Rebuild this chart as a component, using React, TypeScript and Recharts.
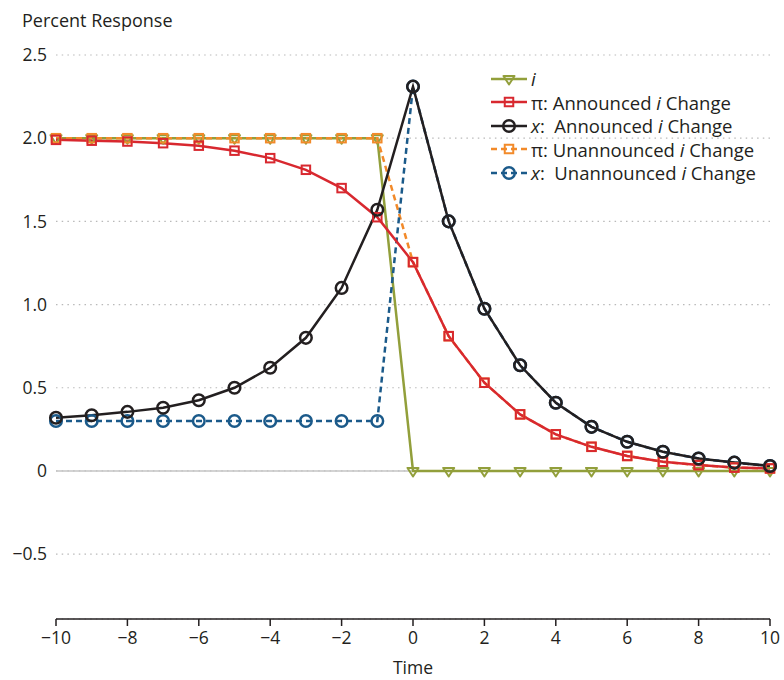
import React from 'react';
import { LineChart, Line, XAxis, YAxis, CartesianGrid, ReferenceLine } from 'recharts';

const FONT = '"Open Sans", "Noto Sans", sans-serif';

const time = [-10, -9, -8, -7, -6, -5, -4, -3, -2, -1, 0, 1, 2, 3, 4, 5, 6, 7, 8, 9, 10];
const iRate = [2, 2, 2, 2, 2, 2, 2, 2, 2, 2, 0, 0, 0, 0, 0, 0, 0, 0, 0, 0, 0];
const piAnnounced = [1.99, 1.985, 1.98, 1.97, 1.955, 1.925, 1.88, 1.81, 1.7, 1.525, 1.255, 0.81, 0.53, 0.34, 0.22, 0.145, 0.09, 0.055, 0.035, 0.02, 0.015];
const xAnnounced = [0.32, 0.335, 0.355, 0.38, 0.425, 0.5, 0.62, 0.8, 1.1, 1.57, 2.31, 1.5, 0.975, 0.635, 0.41, 0.265, 0.175, 0.115, 0.075, 0.05, 0.03];
const piUnannounced = [2, 2, 2, 2, 2, 2, 2, 2, 2, 2, 1.255, 0.81, 0.53, 0.34, 0.22, 0.145, 0.09, 0.055, 0.035, 0.02, 0.015];
const xUnannounced = [0.3, 0.3, 0.3, 0.3, 0.3, 0.3, 0.3, 0.3, 0.3, 0.3, 2.31, 1.5, 0.975, 0.635, 0.41, 0.265, 0.175, 0.115, 0.075, 0.05, 0.03];
const xTicks = [-10, -8, -6, -4, -2, 0, 2, 4, 6, 8, 10];
const yTicks = [-0.5, 0, 0.5, 1, 1.5, 2, 2.5];

const GREEN = '#929f3b';
const RED = '#d8282f';
const BLACK = '#231f20';
const ORANGE = '#f28a2a';
const BLUE = '#1b5a8a';

const data = time.map((t, k) => ({
  t,
  i: iRate[k],
  piA: piAnnounced[k],
  xA: xAnnounced[k],
  piU: piUnannounced[k],
  xU: xUnannounced[k],
}));

const fmtX = (v: number) => (v < 0 ? '\u2212' + Math.abs(v) : String(v));
const fmtY = (v: number) => (v === 0 ? '0' : v < 0 ? '\u2212' + Math.abs(v).toFixed(1) : v.toFixed(1));

type Shape = 'tri' | 'sq' | 'circ';

const markerEl = (shape: Shape, color: string, cx: number, cy: number, key?: any) => {
  if (shape === 'sq') {
    return <rect key={key} x={cx - 4.25} y={cy - 4.25} width={8.5} height={8.5} fill="none" stroke={color} strokeWidth={2} />;
  }
  if (shape === 'circ') {
    return <circle key={key} cx={cx} cy={cy} r={5.8} fill="none" stroke={color} strokeWidth={2.5} />;
  }
  return (
    <path key={key} d={`M${cx - 5.5},${cy - 3} L${cx + 5.5},${cy - 3} L${cx},${cy + 5.5} Z`} fill="none" stroke={color} strokeWidth={2} strokeLinejoin="round" />
  );
};

const makeDot = (shape: Shape, color: string) => (props: any) => {
  const { cx, cy, index } = props;
  if (cx == null || cy == null) return <g key={`d${index}`} />;
  return markerEl(shape, color, cx, cy, `d${index}`);
};

const legendItems = [
  { shape: 'tri' as Shape, color: GREEN, dash: false, label: <i>i</i> },
  { shape: 'sq' as Shape, color: RED, dash: false, label: <span>π: Announced <i>i</i> Change</span> },
  { shape: 'circ' as Shape, color: BLACK, dash: false, label: <span><i>x</i>:&nbsp; Announced <i>i</i> Change</span> },
  { shape: 'sq' as Shape, color: ORANGE, dash: true, label: <span>π: Unannounced <i>i</i> Change</span> },
  { shape: 'circ' as Shape, color: BLUE, dash: true, label: <span><i>x</i>:&nbsp; Unannounced <i>i</i> Change</span> },
];

export default function App() {
  return (
    <div style={{ position: 'absolute', left: 0, top: 0, width: 784, height: 680, background: '#fff', fontFamily: FONT, overflow: 'hidden' }}>
      <LineChart width={784} height={680} data={data} margin={{ top: 55, right: 14, left: 0, bottom: 31 }}>
        <CartesianGrid horizontal vertical={false} stroke="#b9b9b9" strokeDasharray="1.5 4.2" strokeWidth={1.2} />
        <ReferenceLine y={0} stroke="#c4c4c4" strokeWidth={1.5} />
        <XAxis
          dataKey="t"
          type="number"
          domain={[-10, 10]}
          ticks={xTicks}
          tickFormatter={fmtX}
          stroke={BLACK}
          axisLine={{ stroke: BLACK, strokeWidth: 1.5 }}
          tickLine={{ stroke: BLACK, strokeWidth: 1.5 }}
          tickSize={7}
          tickMargin={6}
          height={30}
          tick={{ fill: BLACK, fontSize: 17.5, fontFamily: FONT }}
        />
        <YAxis
          type="number"
          domain={[-0.89, 2.5]}
          ticks={yTicks}
          tickFormatter={fmtY}
          allowDataOverflow
          axisLine={false}
          tickLine={false}
          width={56}
          tickSize={6}
          tickMargin={3}
          tick={{ fill: BLACK, fontSize: 17.5, fontFamily: FONT }}
        />
        <Line dataKey="i" stroke={GREEN} strokeWidth={2.5} dot={makeDot('tri', GREEN)} isAnimationActive={false} />
        <Line dataKey="piU" stroke={ORANGE} strokeWidth={2.5} strokeDasharray="6 4" dot={makeDot('sq', ORANGE)} isAnimationActive={false} />
        <Line dataKey="xU" stroke={BLUE} strokeWidth={2.5} strokeDasharray="6 4" dot={makeDot('circ', BLUE)} isAnimationActive={false} />
        <Line dataKey="piA" stroke={RED} strokeWidth={2.5} dot={makeDot('sq', RED)} isAnimationActive={false} />
        <Line dataKey="xA" stroke={BLACK} strokeWidth={2.5} dot={makeDot('circ', BLACK)} isAnimationActive={false} />
      </LineChart>
      <div style={{ position: 'absolute', left: 22, top: 9, fontSize: 18, lineHeight: '22px', color: BLACK, whiteSpace: 'nowrap' }}>Percent Response</div>
      <div style={{ position: 'absolute', left: 313, width: 200, textAlign: 'center', top: 658, fontSize: 17.5, lineHeight: '18px', color: BLACK }}>Time</div>
      <div style={{ position: 'absolute', left: 490, top: 67, fontSize: 18.5, color: BLACK }}>
        {legendItems.map((it, k) => (
          <div key={k} style={{ display: 'flex', alignItems: 'center', height: 23.5, whiteSpace: 'nowrap' }}>
            <svg width={38} height={16} style={{ marginRight: 3, flex: 'none' }}>
              <line x1={1} y1={8} x2={37} y2={8} stroke={it.color} strokeWidth={2.5} strokeDasharray={it.dash ? '6 4' : undefined} />
              {markerEl(it.shape, it.color, 19, 8)}
            </svg>
            <span>{it.label}</span>
          </div>
        ))}
      </div>
    </div>
  );
}
